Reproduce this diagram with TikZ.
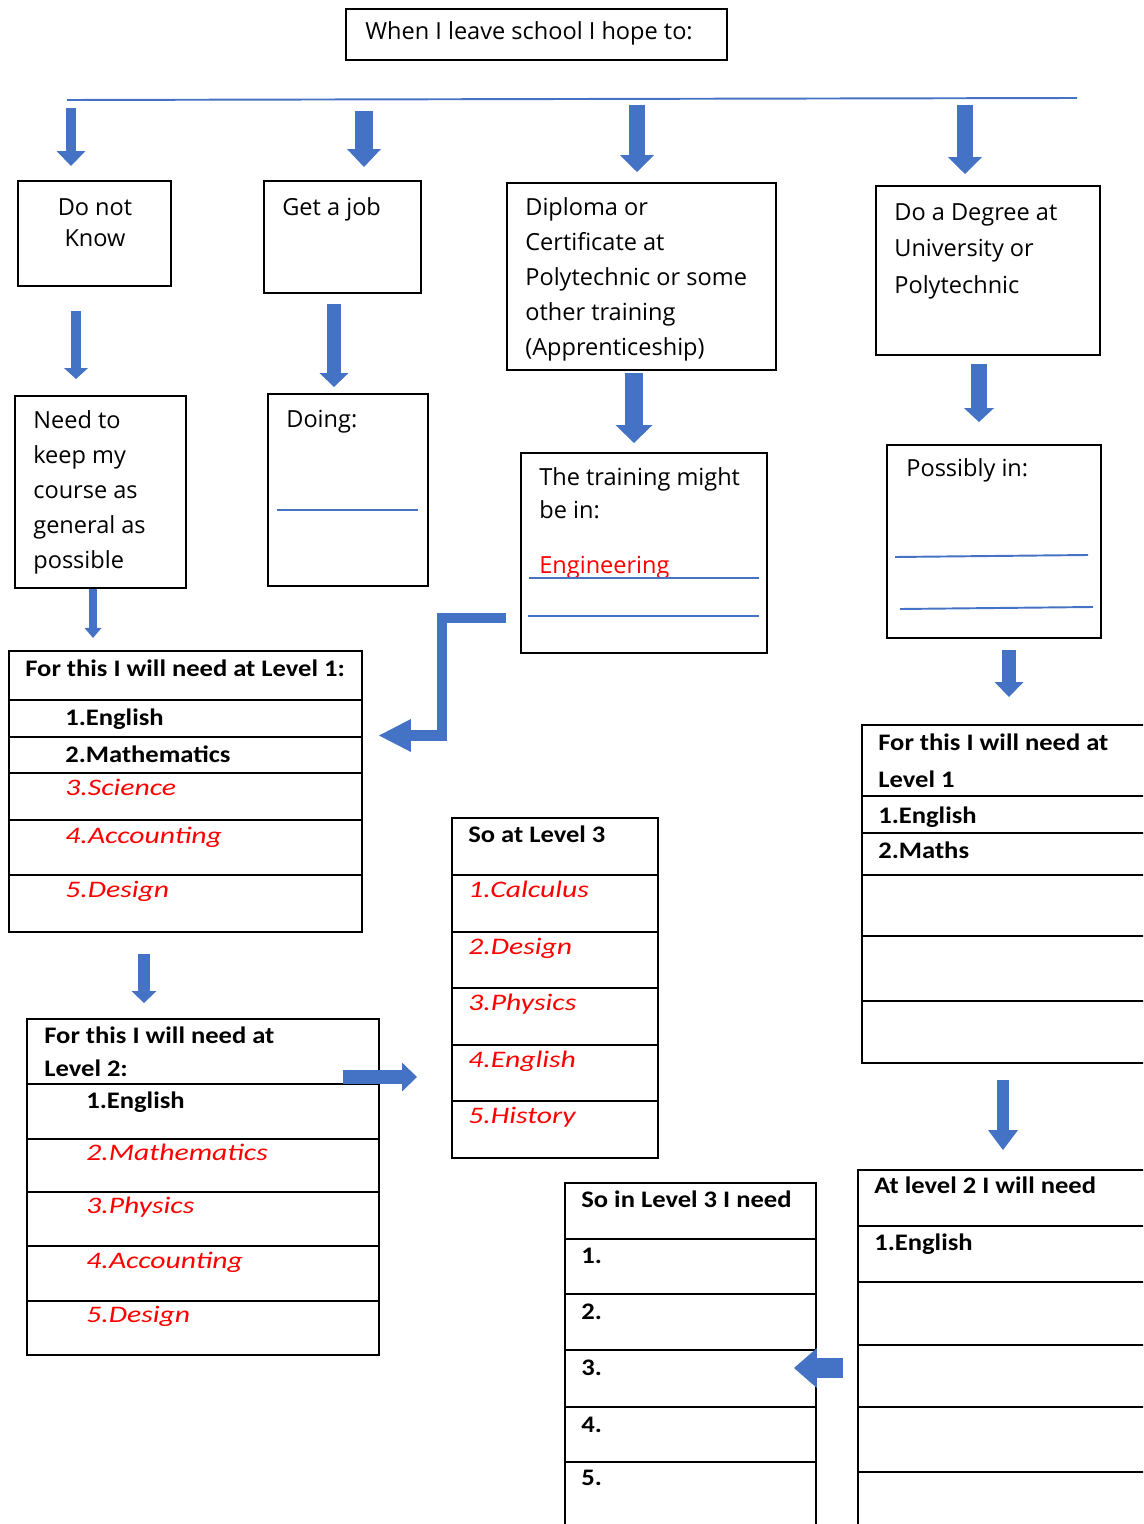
\documentclass[tikz,border=0pt]{standalone}
\usepackage{fontspec}
\setmainfont{Open Sans}
\newfontfamily\tabfont[FakeStretch=1.12]{Carlito}
\newfontfamily\inkfont[FakeStretch=1.25]{Carlito}
\usetikzlibrary{arrows.meta,fit}

\definecolor{arrowblue}{RGB}{68,114,196}
\definecolor{inkred}{RGB}{255,0,0}

\tikzset{
  box/.style={draw, line width=0.9pt, inner sep=0pt},
  rule/.style={draw=arrowblue, line width=1.1pt},
  txt/.style={anchor=base west, inner sep=0pt, align=left, font=\fontsize{13.4}{19.8}\selectfont},
  head/.style={anchor=base west, inner sep=0pt, align=left, font=\tabfont\bfseries\fontsize{13.5}{20.5}\selectfont},
  ink/.style={anchor=base west, inner sep=0pt, text=inkred, font=\inkfont\itshape\fontsize{13.5}{16}\selectfont},
  blockarrow/.style n args={3}{draw=arrowblue, line width=#1, -{Triangle[line width=0pt, length=#2, width=#3]}}
}

\begin{document}
\begin{tikzpicture}[x=0.02cm, y=-0.02cm, line join=miter]
\useasboundingbox (0,0) rectangle (1143,1524);
\clip (0,0) rectangle (1143,1524);

% heading and bar
\node[box, fit={(346,9) (727,60)}] (hope) {};
\node[txt] (hopetext) at (365,40) {When I leave school I hope to:};
\draw[rule] (67,100) -- (1077,98);

% first row of choices (multi-line texts sit on their last baseline)
\node[box, fit={(18,181) (171,286)}] (dnk) {};
\node[txt, anchor=base, align=center, font=\fontsize{13.4}{18.2}\selectfont] (dnktext) at (95,247) {Do not\\Know};
\node[box, fit={(264,181) (421,293)}] (job) {};
\node[txt] (jobtext) at (282,215) {Get a job};
\node[box, fit={(507,183) (776,370)}] (dip) {};
\node[txt] (diptext) at (525,355) {Diploma or\\Certificate at\\Polytechnic or some\\other training\\(Apprenticeship)};
\node[box, fit={(876,186) (1100,355)}] (deg) {};
\node[txt, font=\fontsize{13.4}{20.5}\selectfont] (degtext) at (894,293) {Do a Degree at\\University or\\Polytechnic};

% second row
\node[box, fit={(15,396) (186,588)}] (gen) {};
\node[txt] (gentext) at (33,568) {Need to\\keep my\\course as\\general as\\possible};
\node[box, fit={(268,394) (428,586)}] (doing) {};
\node[txt] (doingtext) at (286,427) {Doing:};
\draw[rule] (277,510) -- (418,510);
\node[box, fit={(521,453) (767,653)}] (train) {};
\node[txt, font=\fontsize{13.4}{18.7}\selectfont] (traintext) at (539,518) {The training might\\be in:};
\node[txt, text=inkred] (eng) at (539,573) {Engineering};
\draw[rule] (529,578) -- (759,578);
\draw[rule] (528,616) -- (759,616);
\node[box, fit={(887,445) (1101,638)}] (poss) {};
\node[txt] (posstext) at (906,476) {Possibly in:};
\draw[rule] (895,557) -- (1088,555);
\draw[rule] (900,609) -- (1093,607);

% level 1, left
\node[box, fit={(9,651) (362,932)}] (lvone) {};
\foreach \y in {700,737,773,820,875}
  \draw[box] (lvone.west |- 0,\y) -- (lvone.east |- 0,\y);
\node[head] (lvonehead) at (25,676) {For this I will need at Level 1:};
\node[head] (lvonea) at (65,725) {1.English};
\node[head] (lvoneb) at (65,762) {2.Mathematics};
\node[ink] (lvonec) at (65,795) {3.Science};
\node[ink] (lvoned) at (65,843) {4.Accounting};
\node[ink] (lvonee) at (65,897) {5.Design};

% level 1, right
\node[box, fit={(862,725) (1160,1063)}] (uone) {};
\foreach \y in {796,833,875,936,1001}
  \draw[box] (uone.west |- 0,\y) -- (uone.east |- 0,\y);
\node[head] (uonehead) at (878,787) {For this I will need at\\Level 1};
\node[head] (uonea) at (878,823) {1.English};
\node[head] (uoneb) at (878,858) {2.Maths};

% level 2, left
\node[box, fit={(27,1019) (379,1355)}] (lvtwo) {};
\foreach \y in {1084,1139,1192,1246,1301}
  \draw[box] (lvtwo.west |- 0,\y) -- (lvtwo.east |- 0,\y);
\node[head, font=\tabfont\bfseries\fontsize{13.5}{18.7}\selectfont] (lvtwohead) at (44,1076) {For this I will need at\\Level 2:};
\node[head] (lvtwoa) at (86,1108) {1.English};
\node[ink] (lvtwob) at (86,1160) {2.Mathematics};
\node[ink] (lvtwoc) at (86,1213) {3.Physics};
\node[ink] (lvtwod) at (86,1268) {4.Accounting};
\node[ink] (lvtwoe) at (86,1322) {5.Design};

% level 3, middle
\node[box, fit={(452,818) (658,1158)}] (lvthree) {};
\foreach \y in {875,932,988,1045,1101}
  \draw[box] (lvthree.west |- 0,\y) -- (lvthree.east |- 0,\y);
\node[head] (lvthreehead) at (468,842) {So at Level 3};
\node[ink] (lvthreea) at (468,897) {1.Calculus};
\node[ink] (lvthreeb) at (468,954) {2.Design};
\node[ink] (lvthreec) at (468,1010) {3.Physics};
\node[ink] (lvthreed) at (468,1067) {4.English};
\node[ink] (lvthreee) at (468,1123) {5.History};

% level 3, bottom
\node[box, fit={(565,1183) (816,1540)}] (uthree) {};
\foreach \y in {1239,1294,1350,1407,1462}
  \draw[box] (uthree.west |- 0,\y) -- (uthree.east |- 0,\y);
\node[head] (uthreehead) at (581,1207) {So in Level 3 I need};
\foreach \n/\y in {1/1263,2/1319,3/1375,4/1432,5/1485}
  \node[head] (uthree\n) at (581,\y) {\n.};

% level 2, right
\node[box, fit={(858,1170) (1160,1540)}] (utwo) {};
\foreach \y in {1226,1282,1345,1407,1472}
  \draw[box] (utwo.west |- 0,\y) -- (utwo.east |- 0,\y);
\node[head] (utwohead) at (874,1193) {At level 2 I will need};
\node[head] (utwoa) at (874,1250) {1.English};

% arrow ends
\coordinate (a1) at (71,108);   \coordinate (b1) at (71,166);
\coordinate (a2) at (364,111);  \coordinate (b2) at (364,167);
\coordinate (a3) at (637,105);  \coordinate (b3) at (637,172);
\coordinate (a4) at (965,105);  \coordinate (b4) at (965,174);
\coordinate (a5) at (76,311);   \coordinate (b5) at (76,379);
\coordinate (a6) at (334,304);  \coordinate (b6) at (334,387);
\coordinate (a7) at (93,589);   \coordinate (b7) at (93,638);
\coordinate (a8) at (634,373);  \coordinate (b8) at (634,443);
\coordinate (a9) at (979,364);  \coordinate (b9) at (979,422);
\coordinate (a10) at (1009,650); \coordinate (b10) at (1009,697);
\coordinate (a11) at (144,954); \coordinate (b11) at (144,1003);
\coordinate (a12) at (343,1077); \coordinate (b12) at (417,1077);
\coordinate (a13) at (1003,1080); \coordinate (b13) at (1003,1150);
\coordinate (a14) at (843,1368); \coordinate (b14) at (794,1368);
\coordinate (e1) at (506,618); \coordinate (e2) at (442,618);
\coordinate (e3) at (442,735.5); \coordinate (e4) at (379,735.5);

\draw[blockarrow={6.2pt}{8.5pt}{16.4pt}] (a1) -- (b1);
\draw[blockarrow={10.8pt}{10.2pt}{19.3pt}] (a2) -- (b2);
\draw[blockarrow={9pt}{9.6pt}{19.3pt}] (a3) -- (b3);
\draw[blockarrow={9pt}{9.6pt}{19.3pt}] (a4) -- (b4);
\draw[blockarrow={5.7pt}{6.2pt}{13.6pt}] (a5) -- (b5);
\draw[blockarrow={8.5pt}{7.9pt}{16.4pt}] (a6) -- (b6);
\draw[blockarrow={5.1pt}{5.7pt}{9.6pt}] (a7) -- (b7);
\draw[blockarrow={10.8pt}{10.2pt}{21pt}] (a8) -- (b8);
\draw[blockarrow={9.1pt}{7.9pt}{17pt}] (a9) -- (b9);
\draw[blockarrow={8.5pt}{8.5pt}{16.4pt}] (a10) -- (b10);
\draw[blockarrow={6.8pt}{6.8pt}{14.2pt}] (a11) -- (b11);
\draw[blockarrow={7.9pt}{8.5pt}{16.4pt}] (a12) -- (b12);
\draw[blockarrow={6.8pt}{11.3pt}{17pt}] (a13) -- (b13);
\draw[blockarrow={11.9pt}{13pt}{22.7pt}] (a14) -- (b14);
\draw[blockarrow={5.7pt}{18.1pt}{18.7pt}] (e1) -- (e2) -- (e3) -- (e4);
\end{tikzpicture}
\end{document}
